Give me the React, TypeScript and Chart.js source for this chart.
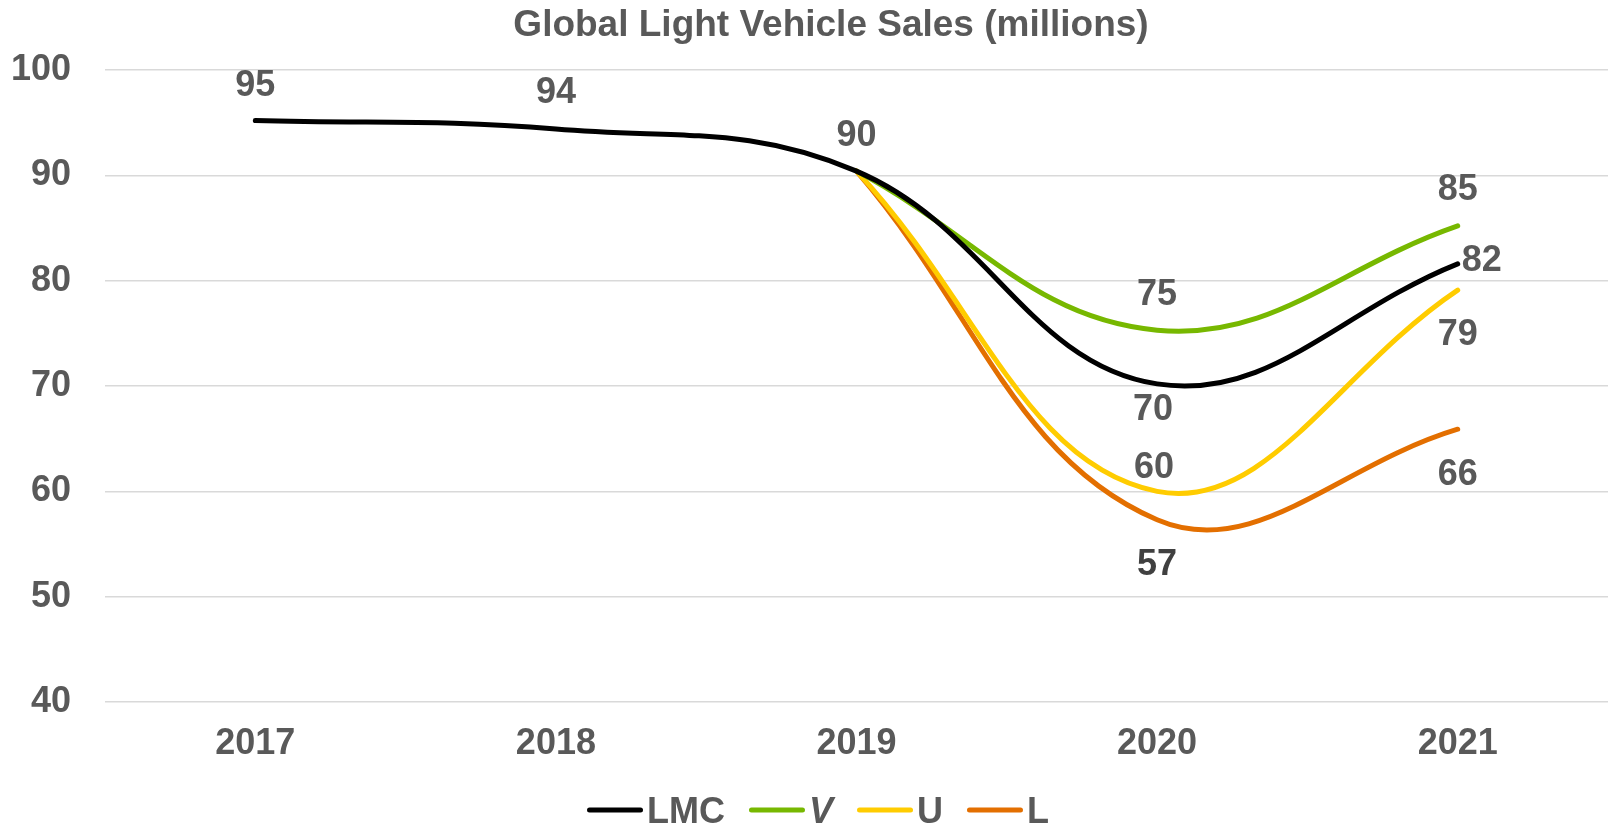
import React, { useEffect, useRef } from "react";
import { Chart, registerables } from "chart.js";

Chart.register(...registerables);

const years = ["2017", "2018", "2019", "2020", "2021"];
const lmcValues = [95.2, 94.4, 90.4, 70.2, 81.6];
const vValues = [null, null, 90.4, 75.3, 85.2];
const uValues = [null, null, 90.4, 60.0, 79.1];
const lValues = [null, null, 90.4, 57.3, 65.9];
const yTicks = [40, 50, 60, 70, 80, 90, 100];
const titleText = "Global Light Vehicle Sales (millions)";

const TEXT = "#595959";
const FONT = "Arial, 'Liberation Sans', sans-serif";

// label placement per dataset per point: [dx, dy, align, color?] or null for no label
const labelPlacement: any[][] = [
  [[0, -38, "center"], [0, -39, "center"], [0, -38, "center"], [-4, 23, "center"], [4, -6, "left"]],
  [null, null, null, [0, -38, "center"], [0, -39, "center"]],
  [null, null, null, [-3, -26, "center"], [0, 42, "center"]],
  [null, null, null, [0, 42, "center", "#404040"], [0, 43, "center"]],
];

const customDraw = {
  id: "customDraw",
  afterDatasetsDraw(chart: any) {
    const ctx = chart.ctx;
    ctx.save();
    // data labels
    ctx.font = `bold 36px ${FONT}`;
    ctx.textBaseline = "alphabetic";
    chart.data.datasets.forEach((ds: any, di: number) => {
      const meta = chart.getDatasetMeta(di);
      meta.data.forEach((pt: any, i: number) => {
        const v = ds.data[i];
        const pl = labelPlacement[di][i];
        if (v == null || !pl) return;
        ctx.fillStyle = pl[3] || TEXT;
        ctx.textAlign = pl[2];
        ctx.fillText(String(Math.round(v)), pt.x + pl[0], pt.y + pl[1] + 13);
      });
    });
    // title
    ctx.font = `bold 37px ${FONT}`;
    ctx.fillStyle = TEXT;
    ctx.textAlign = "center";
    ctx.fillText(titleText, 831, 36);
    // legend
    const lineW = 56, gap1 = 4, gap2 = 24;
    const items = chart.data.datasets.map((ds: any) => {
      const italic = ds.label === "V";
      const font = `${italic ? "italic " : ""}bold 36px ${FONT}`;
      ctx.font = font;
      return { ds, font, w: ctx.measureText(ds.label).width };
    });
    let total = 0;
    items.forEach((it: any, k: number) => {
      total += lineW + gap1 + it.w + (k < items.length - 1 ? gap2 : 0);
    });
    let x = 818 - total / 2;
    const ly = 810;
    items.forEach((it: any) => {
      ctx.strokeStyle = it.ds.borderColor;
      ctx.lineWidth = 5;
      ctx.lineCap = "round";
      ctx.beginPath();
      ctx.moveTo(x + 2.5, ly);
      ctx.lineTo(x + lineW - 2.5, ly);
      ctx.stroke();
      x += lineW + gap1;
      ctx.font = it.font;
      ctx.fillStyle = TEXT;
      ctx.textAlign = "left";
      ctx.fillText(it.ds.label, x, ly + 13);
      x += it.w + gap2;
    });
    ctx.restore();
  },
};

export default function App() {
  const ref = useRef<HTMLCanvasElement | null>(null);
  useEffect(() => {
    if (!ref.current) return;
    const mk = (label: string, data: any[], color: string) => ({
      label,
      data,
      borderColor: color,
      backgroundColor: color,
      borderWidth: 5,
      borderCapStyle: "round",
      tension: 0.4,
      pointRadius: 0,
      pointHoverRadius: 0,
      spanGaps: false,
    });
    const chart = new Chart(ref.current, {
      type: "line",
      data: {
        labels: years,
        datasets: [
          mk("LMC", lmcValues, "#000000"),
          mk("V", vValues, "#77B800"),
          mk("U", uValues, "#FFCC00"),
          mk("L", lValues, "#E36F00"),
        ] as any,
      },
      options: {
        animation: false,
        responsive: true,
        maintainAspectRatio: false,
        layout: { padding: { top: 70, left: 11, right: 2, bottom: 62 } },
        plugins: {
          legend: { display: false },
          title: { display: false },
          tooltip: { enabled: false },
        },
        scales: {
          x: {
            offset: true,
            grid: { display: false, drawTicks: false },
            border: { display: false },
            ticks: {
              color: TEXT,
              font: { family: FONT, size: 36, weight: "bold" },
              padding: 20,
              maxRotation: 0,
            },
            afterFit: (axis: any) => {
              axis.height = 63;
            },
          },
          y: {
            min: 40,
            max: 100,
            afterBuildTicks: (axis: any) => {
              axis.ticks = yTicks.map((v) => ({ value: v }));
            },
            grid: { color: "#d9d9d9", lineWidth: 1.5, drawTicks: false },
            border: { display: false },
            ticks: {
              color: TEXT,
              font: { family: FONT, size: 36, weight: "bold" },
              padding: 34,
            },
            afterFit: (axis: any) => {
              axis.width = 94;
            },
          },
        },
      },
      plugins: [customDraw],
    });
    return () => chart.destroy();
  }, []);
  return (
    <div style={{ position: "fixed", left: 0, top: 0, width: 1610, height: 827, background: "#fff" }}>
      <canvas ref={ref} />
    </div>
  );
}
